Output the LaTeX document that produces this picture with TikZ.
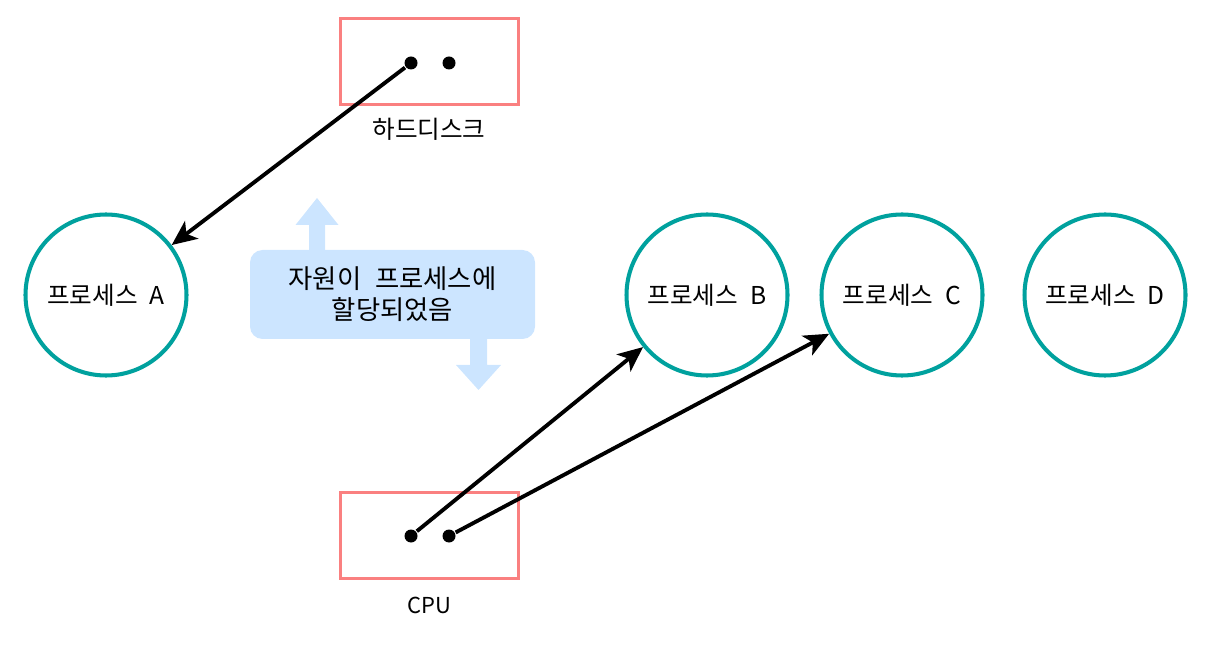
\documentclass[tikz,border=0pt]{standalone}
\usepackage{fontspec}
\setmainfont{Noto Sans CJK KR}
\usepackage{tikz}
\usetikzlibrary{arrows.meta}

\definecolor{boxred}{HTML}{FA8080}
\definecolor{proteal}{HTML}{00A19E}
\definecolor{noteblue}{HTML}{CCE5FF}

\begin{document}
\begin{tikzpicture}[-,>={Stealth[length=0.5cm,width=0.44cm,inset=0.13cm]},auto,
  very thick,
  proc node/.style={circle,draw=proteal,line width=2.3pt,fill=white,minimum size=3.22cm,
    font=\fontsize{14}{16}\selectfont},
  res node/.style={rectangle,draw=boxred,line width=2.1pt,minimum width=3.56cm,minimum height=1.72cm},
  dot node/.style={circle,fill=black,inner sep=0pt,minimum size=0.26cm},
  note node/.style={rectangle,rounded corners=0.25cm,fill=noteblue,minimum width=5.7cm,minimum height=1.78cm,
    align=center,font=\fontsize{15}{17.5}\selectfont},
  lbl node/.style={font=\fontsize{14}{16}\selectfont}]
  \useasboundingbox (0,0) rectangle (24.28,12.9);

  % resources
  \node[res node] (hdd) at (8.59,11.67) {};
  \node[lbl node] (hddlbl) at (8.58,10.32) {하드디스크};
  \node[dot node] (h1) at (8.22,11.64) {};
  \node[dot node] (h2) at (8.98,11.64) {};

  \node[res node] (cpu) at (8.59,2.19) {};
  \node[lbl node,font=\fontsize{12.5}{14}\selectfont] (cpulbl) at (8.58,0.8) {CPU};
  \node[dot node] (c1) at (8.22,2.18) {};
  \node[dot node] (c2) at (8.98,2.18) {};

  % processes
  \node[proc node] (A) at (2.12,7.0) {프로세스\hspace{0.5em}A};
  \node[proc node] (B) at (14.14,7.0) {프로세스\hspace{0.5em}B};
  \node[proc node] (C) at (18.04,7.0) {프로세스\hspace{0.5em}C};
  \node[proc node] (D) at (22.1,7.0) {프로세스\hspace{0.5em}D};

  % note with its two arrows
  \fill[noteblue] (6.18,7.8) -- (6.18,8.4) -- (5.91,8.4) -- (6.34,8.94) -- (6.77,8.4) -- (6.5,8.4) -- (6.5,7.8) -- cycle;
  \fill[noteblue] (9.4,6.2) -- (9.4,5.6) -- (9.12,5.6) -- (9.57,5.1) -- (10.02,5.6) -- (9.74,5.6) -- (9.74,6.2) -- cycle;
  \node[note node] (note) at (7.85,7.01) {자원이\hspace{0.3em} 프로세스에\\할당되었음};

  \path[line width=2.2pt]
    (h1) edge[->] (A)
    (c1) edge[->] (B)
    (c2) edge[->] (C);
\end{tikzpicture}
\end{document}
